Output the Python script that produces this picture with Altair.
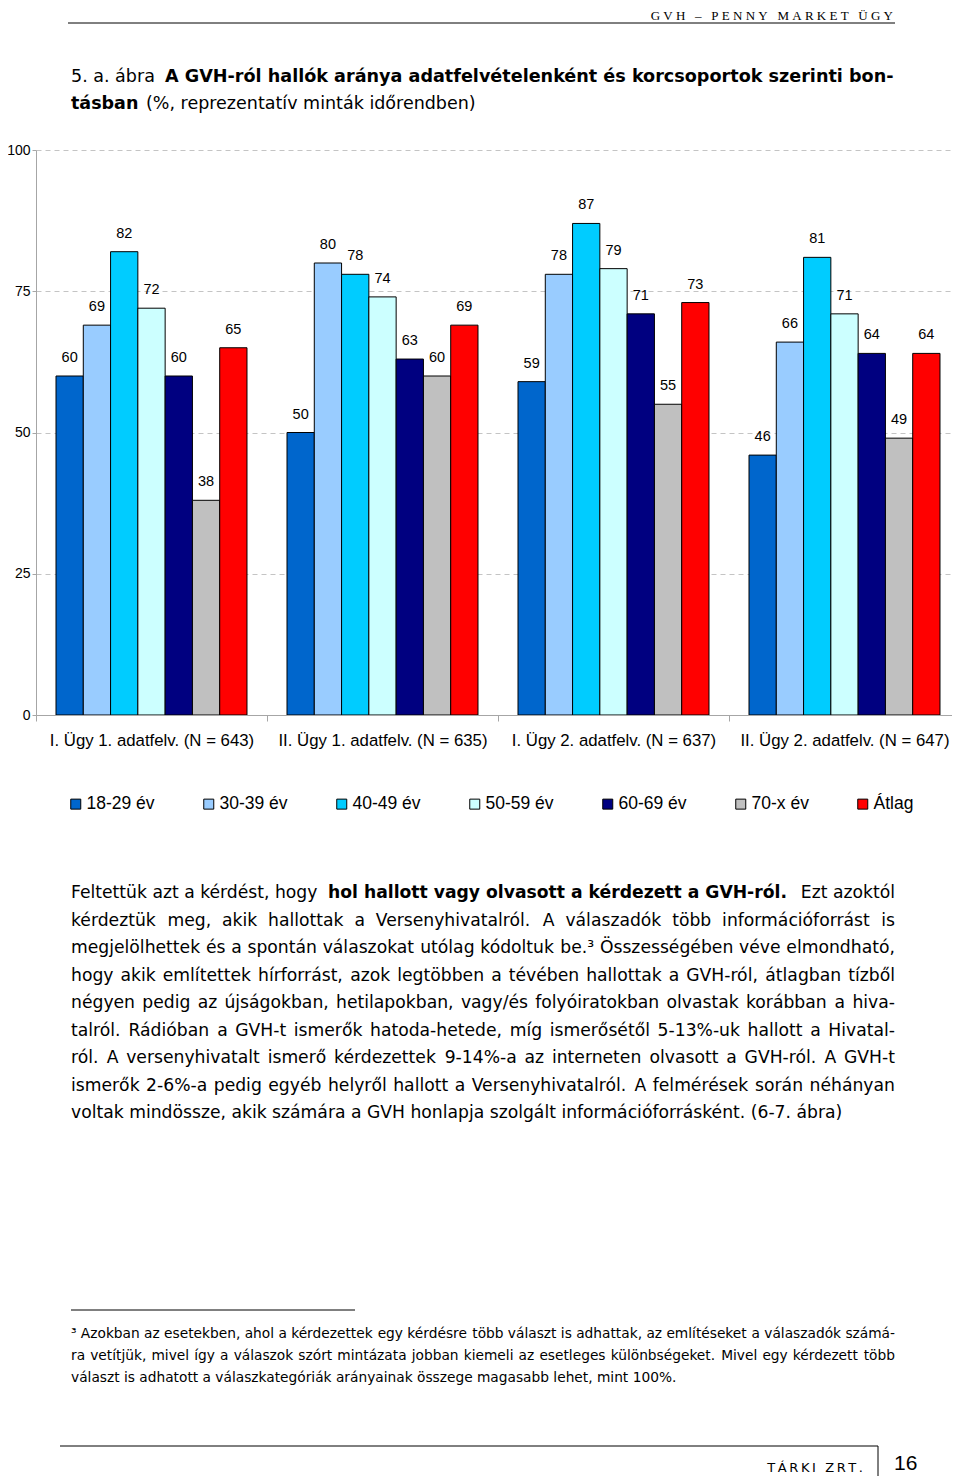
import altair as alt
import pandas as pd

# ---------------- chart data ----------------
categories = [
    "I. Ügy 1. adatfelv. (N = 643)",
    "II. Ügy 1. adatfelv. (N = 635)",
    "I. Ügy 2. adatfelv. (N = 637)",
    "II. Ügy 2. adatfelv. (N = 647)",
]
series = ["18-29 év", "30-39 év", "40-49 év", "50-59 év", "60-69 év", "70-x év", "Átlag"]
colors = ["#0066CC", "#99CCFF", "#00CCFF", "#CCFFFF", "#000080", "#C0C0C0", "#FF0000"]

vals_1 = [60, 69, 82, 72, 60, 38, 65]
vals_2 = [50, 80, 78, 74, 63, 60, 69]
vals_3 = [59, 78, 87, 79, 71, 55, 73]
vals_4 = [46, 66, 81, 71, 64, 49, 64]
y_ticks = [0, 25, 50, 75, 100]

# ---------------- page text ----------------
header_text = "GVH – PENNY MARKET ÜGY"
title_1_normal = "5. a. ábra"
title_1_bold = "A GVH-ról hallók aránya adatfelvételenként és korcsoportok szerinti bon-"
title_2_bold = "tásban"
title_2_normal = "(%, reprezentatív minták időrendben)"

para_1_a = "Feltettük azt a kérdést, hogy"
para_1_b = "hol hallott vagy olvasott a kérdezett a GVH-ról."
para_1_c = "Ezt azoktól"
para_justified = [
    "kérdeztük meg, akik hallottak a Versenyhivatalról. A válaszadók több információforrást is",
    "megjelölhettek és a spontán válaszokat utólag kódoltuk be.³ Összességében véve elmondható,",
    "hogy akik említettek hírforrást, azok legtöbben a tévében hallottak a GVH-ról, átlagban tízből",
    "négyen pedig az újságokban, hetilapokban, vagy/és folyóiratokban olvastak korábban a hiva-",
    "talról. Rádióban a GVH-t ismerők hatoda-hetede, míg ismerősétől 5-13%-uk hallott a Hivatal-",
    "ról. A versenyhivatalt ismerő kérdezettek 9-14%-a az interneten olvasott a GVH-ról. A GVH-t",
    "ismerők 2-6%-a pedig egyéb helyről hallott a Versenyhivatalról. A felmérések során néhányan",
]
para_last = "voltak mindössze, akik számára a GVH honlapja szolgált információforrásként. (6-7. ábra)"
footnote_justified = [
    "³ Azokban az esetekben, ahol a kérdezettek egy kérdésre több választ is adhattak, az említéseket a válaszadók számá-",
    "ra vetítjük, mivel így a válaszok szórt mintázata jobban kiemeli az esetleges különbségeket. Mivel egy kérdezett több",
]
footnote_last = "választ is adhatott a válaszkategóriák arányainak összege magasabb lehet, mint 100%."
footer_text = "TÁRKI ZRT."
page_number = "16"

# ---------------- table ----------------
rows = []
for cat, vals in zip(categories, [vals_1, vals_2, vals_3, vals_4]):
    for s, v in zip(series, vals):
        rows.append({"kat": cat, "kor": s, "v": v})
df = pd.DataFrame(rows)

W, H = 916, 1468
PL = 28  # left padding: plot origin at page x 36

x_enc = alt.X(
    "kat:N",
    scale=alt.Scale(domain=categories, range=[0, 924], paddingInner=0, paddingOuter=0),
    axis=alt.Axis(
        title=None, orient="bottom", offset=707 - H, domainColor="#a6a6a6",
        tickColor="#a6a6a6", tickBand="extent", tickSize=6, labelPadding=11,
        labelFont="Liberation Sans", labelFontSize=16.8, labelColor="black",
        labelAngle=0, labelLimit=400, zindex=1,
    ),
)
xo_enc = alt.XOffset(
    "kor:N", scale=alt.Scale(domain=series, paddingInner=0, paddingOuter=0.733)
)
y_enc = alt.Y(
    "v:Q",
    scale=alt.Scale(domain=[0, 100], range=[707, 142], nice=False, zero=True),
    axis=alt.Axis(
        values=y_ticks, title=None, grid=True, gridDash=[5, 4], gridColor="#c4c4c4",
        domainColor="#a6a6a6", tickColor="#a6a6a6", tickSize=4, labelPadding=2,
        labelFont="Liberation Sans", labelFontSize=14, labelColor="black",
    ),
)

bars = alt.Chart(df).mark_bar(stroke="black", strokeWidth=1).encode(
    x=x_enc,
    xOffset=xo_enc,
    y=y_enc,
    color=alt.Color(
        "kor:N",
        scale=alt.Scale(domain=series, range=colors),
        legend=alt.Legend(
            orient="none", legendX=31, legendY=787, direction="horizontal", title=None,
            symbolType="square", symbolSize=100, symbolStrokeColor="black",
            symbolStrokeWidth=1, symbolOpacity=1, labelFont="Liberation Sans",
            labelFontSize=17.5, labelColor="black", labelOffset=2, columnPadding=45,
            padding=0,
        ),
    ),
)

labels = alt.Chart(df).mark_text(
    dy=-18, baseline="middle", fontSize=14.5, font="Liberation Sans", color="black"
).encode(x=x_enc, xOffset=xo_enc, y=y_enc, text="v:Q")

core = alt.layer(bars, labels)


def page_text(s, px, py, size, font="DejaVu Sans", weight="normal", align="left"):
    return alt.Chart(alt.Data(values=[{"t": s}])).mark_text(
        align=align, baseline="alphabetic", font=font, fontSize=size,
        fontWeight=weight, color="black",
    ).encode(x=alt.value(px - 8 - PL), y=alt.value(py - 8), text="t:N")


def page_rule(px1, py1, px2, py2):
    return alt.Chart(alt.Data(values=[{"a": 1}])).mark_rule(
        color="black", strokeWidth=1
    ).encode(
        x=alt.value(px1 - 8 - PL), x2=alt.value(px2 - 8 - PL),
        y=alt.value(py1 - 8), y2=alt.value(py2 - 8),
    )


def spaced(s, sep):
    return sep.join(list(s))


# approximate DejaVu Sans advance widths (em) for text justification
_W = {" ": 0.318, ".": 0.318, ",": 0.318, "-": 0.361, "%": 0.950, "(": 0.390,
      ")": 0.390, "/": 0.337, ":": 0.337, "³": 0.401}
for c, w in zip("abcdefghijklmnopqrstuvwxyz",
                [0.613, 0.635, 0.550, 0.635, 0.615, 0.352, 0.635, 0.634, 0.278, 0.278,
                 0.579, 0.278, 0.974, 0.634, 0.612, 0.635, 0.635, 0.411, 0.521, 0.392,
                 0.634, 0.592, 0.818, 0.592, 0.592, 0.525]):
    _W[c] = w
for c, w in zip("ABCDEFGHIJKLMNOPQRSTUVWXYZ",
                [0.684, 0.686, 0.698, 0.770, 0.632, 0.575, 0.775, 0.752, 0.295, 0.295,
                 0.656, 0.557, 0.863, 0.748, 0.787, 0.603, 0.787, 0.695, 0.635, 0.611,
                 0.732, 0.684, 0.989, 0.685, 0.611, 0.685]):
    _W[c] = w
for c in "0123456789":
    _W[c] = 0.636
for c, base in zip("áéíóöőúüűÁÉÍÓÖŐÚÜŰ", "aeiooouuuAEIOOOUUU"):
    _W[c] = _W[base]


def text_width(s, size):
    return sum(_W.get(c, 0.6) for c in s) * size


def justify(lines, px0, px1, py0, step, size):
    out = []
    for i, line in enumerate(lines):
        words = line.split(" ")
        widths = [text_width(w, size) for w in words]
        gap = (px1 - px0 - sum(widths)) / (len(words) - 1)
        x = px0
        for w, ww in zip(words, widths):
            out.append({"t": w, "px": x - 8 - PL, "py": py0 + step * i - 8})
            x += ww + gap
    return out


def word_layer(records, size):
    return alt.Chart(alt.Data(values=records)).mark_text(
        align="left", baseline="alphabetic", font="DejaVu Sans", fontSize=size,
        color="black",
    ).encode(
        x=alt.X("px:Q", scale=None, axis=None),
        y=alt.Y("py:Q", scale=None, axis=None),
        text="t:N",
    )


BODY = 17.2
FOOT = 13.75
layers = [core]

# header
layers.append(page_text(spaced(header_text, "\u2005"), 893, 20, 13,
                        font="Liberation Serif", align="right"))
layers.append(page_rule(68, 23, 895, 23))

# title
layers.append(page_text(title_1_normal, 71, 82, 17.5))
layers.append(page_text(title_1_bold, 165, 82, 17.6, weight="bold"))
layers.append(page_text(title_2_bold, 71, 109, 17.5, weight="bold"))
layers.append(page_text(title_2_normal, 146, 109, 17.5))

# paragraph
layers.append(page_text(para_1_a, 71, 898, BODY))
layers.append(page_text(para_1_b, 328, 898, BODY, weight="bold"))
layers.append(page_text(para_1_c, 895, 898, BODY, align="right"))
layers.append(word_layer(justify(para_justified, 71, 895, 925.5, 27.5, BODY), BODY))
layers.append(page_text(para_last, 71, 898 + 27.5 * 8, BODY))

# footnote
layers.append(page_rule(71, 1310, 355, 1310))
layers.append(word_layer(justify(footnote_justified, 71, 895, 1338, 22, FOOT), FOOT))
layers.append(page_text(footnote_last, 71, 1382, FOOT))

# footer
layers.append(page_rule(60, 1446, 878, 1446))
layers.append(page_rule(878, 1446, 878, 1476))
layers.append(page_text(spaced(footer_text, "\u2009"), 863, 1472, 13, align="right"))
layers.append(page_text(page_number, 894, 1470, 21, font="Liberation Sans"))

chart = alt.layer(*layers).resolve_scale(
    x="independent", y="independent"
).properties(
    width=W,
    height=H,
    autosize=alt.AutoSizeParams(type="none"),
    padding={"left": PL, "top": 0, "right": 0, "bottom": 0},
).configure_view(stroke=None)

chart.save("out.html", embed_options={"renderer": "svg", "actions": False})
